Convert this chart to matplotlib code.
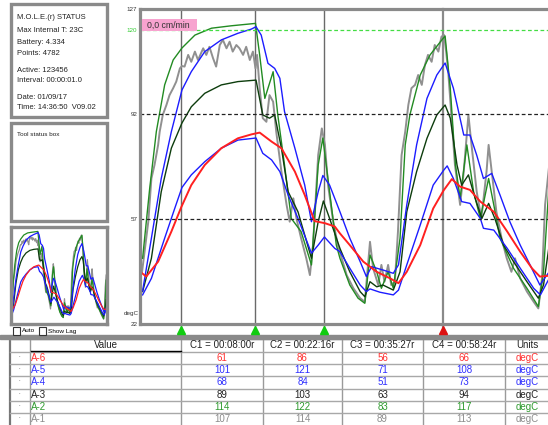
import numpy as np
import matplotlib
matplotlib.use('Agg')
import matplotlib.pyplot as plt
from matplotlib.patches import Rectangle

plt.rcParams['font.family'] = ['Liberation Sans', 'DejaVu Sans']

# ---------------------------------------------------------------
# data (time in minutes, values in degC)
# ---------------------------------------------------------------
a6_t = [0, 1.2, 3.5, 6.05, 7.98, 9.9, 12.5, 15.7, 18.9, 21.5, 23.1, 25.4, 27.3, 29.9, 31.8,
        33.7, 35.7, 37.6, 38.6, 40.5, 43.1, 45.7, 48.3, 49.9, 51.5, 54.1, 56.6, 58.6, 60.2,
        61.8, 63.7, 65.7, 68.3, 70.9, 73.4, 75.7, 77.2, 79.0]
a6_v = [39.5, 37.8, 42.8, 52.8, 61, 68.3, 75, 80.6, 83.9, 85.2, 85.8, 82.8, 80.6, 72.8, 65,
        56.3, 55.6, 54.5, 52.2, 48.3, 42.8, 39.4, 37.2, 35.6, 39.4, 48.3, 60.5, 66.5, 70.3,
        67.8, 66.7, 62.8, 59.4, 52.8, 46.1, 40.5, 37.8, 38.1]

a5_t = [0.5, 2.2, 4.1, 6.05, 8.1, 9.9, 12.5, 15.7, 18.9, 21.5, 22.4, 23.4, 24.7, 26.0, 27.0,
        27.9, 29.9, 31.8, 33.1, 34.4, 35.3, 36.6, 38.6, 40.5, 42.5, 43.7, 44.7, 46.9, 48.9,
        49.9, 51.5, 53.4, 55.4, 57.3, 58.9, 60.5, 62.5, 63.7, 65.0, 66.3, 67.9, 69.5, 71.4,
        73.4, 75.3, 77.2, 79.0]
a5_v = [33, 50.6, 70.5, 86.1, 100, 106.1, 112.8, 116.7, 118.9, 120.3, 121.1, 118.3, 108.9,
        107.2, 103.9, 92.8, 80.6, 68.3, 56.1, 66.1, 71.5, 68.3, 59.4, 50.6, 42.8, 37.8, 41.1,
        40, 38.9, 41.7, 61.7, 81.7, 97.2, 105, 109, 100.6, 85, 85, 78.3, 70.5, 72.2, 65, 56.1,
        48.3, 41.7, 35, 39.4]

a4_t = [0.5, 2.2, 4.76, 6.7, 8.1, 9.9, 12.5, 15.7, 18.9, 22.4, 23.7, 25.4, 27.0, 28.6, 30.5,
        33.1, 34.4, 35.6, 37.6, 38.6, 40.5, 42.5, 43.7, 44.4, 46.3, 48.9, 49.9, 51.5, 54.1,
        56.6, 58.6, 59.3, 60.5, 62.1, 63.7, 65.7, 66.3, 68.3, 70.9, 73.4, 76.0, 77.3, 79.0]
a4_v = [31.7, 37.2, 50.6, 60.5, 67.5, 71.7, 76.1, 80.6, 83.3, 84, 78.9, 76.7, 72.8, 65, 57.2,
        45.6, 48.3, 51, 47.2, 46.1, 40.6, 35, 32.8, 33.7, 32.6, 31.7, 33.3, 41.7, 55, 68.3,
        73.2, 74.7, 70.5, 62.8, 62.2, 57.2, 53.9, 53.3, 47.2, 40.6, 33.9, 31.7, 37.2]

a3_t = [0.5, 2.2, 4.1, 6.05, 8.1, 9.9, 12.5, 15.7, 18.9, 22.4, 23.7, 25.0, 26.0, 27.3, 28.6,
        30.5, 33.1, 34.4, 35.4, 36.6, 38.6, 40.5, 42.5, 43.4, 44.4, 45.7, 46.9, 48.9, 50.2,
        51.5, 53.4, 55.4, 57.3, 58.9, 59.9, 61.2, 62.1, 63.4, 64.7, 66.0, 67.3, 68.5, 70.2,
        72.1, 74.7, 76.9, 77.9, 79.0]
a3_v = [32.8, 43.9, 66.1, 80.6, 89, 94.4, 98.9, 101.7, 102.8, 103.3, 91.7, 90.6, 91.7, 80.6,
        66.1, 59.4, 43.9, 56.1, 63, 57.2, 47.2, 39.4, 32.8, 31.1, 36.1, 34.4, 35, 33.3, 39.4,
        59.4, 72.8, 83.9, 91.7, 95, 90.6, 75, 68.3, 71.7, 63.9, 57.2, 62.2, 57.2, 48.3, 42.8,
        36.1, 30.6, 35, 48.3]

a2_t = [0.5, 1.87, 3.15, 4.76, 6.4, 8.1, 10.6, 13.8, 17.6, 22.3, 23.1, 24.1, 25.7, 26.6, 27.9,
        29.2, 31.1, 33.1, 34.4, 35.3, 36.6, 37.9, 38.6, 40.5, 42.1, 43.4, 44.4, 45.7, 46.6,
        47.9, 48.9, 50.2, 51.2, 52.1, 54.1, 56.0, 58.0, 58.9, 59.9, 60.9, 61.8, 63.1, 64.4,
        65.7, 67.3, 68.3, 69.5, 72.1, 74.7, 76.9, 77.9, 79.0]
a2_v = [43.9, 67.2, 86.1, 101.7, 110, 114, 118.3, 120.6, 121.4, 122.2, 111.7, 97.2, 106.1,
        91.7, 75, 57.2, 52.8, 41.7, 75, 84, 66.1, 48.3, 43.9, 35, 30.6, 28.9, 45, 39.4, 33.9,
        39.4, 33.9, 50.6, 81.7, 91.7, 105, 111.7, 116.1, 118, 100.6, 75, 63.9, 81.7, 66.1,
        57.2, 70.5, 61.7, 50.6, 40.6, 33.9, 27.8, 39.4, 69.4]

a1_t = [0.4, 1.6, 2.2, 2.8, 3.15, 3.5, 3.8, 4.4, 5.1, 5.7, 6.4, 7.0, 7.7, 8.1, 8.6, 9.3, 9.9,
        10.6, 11.2, 12.2, 12.8, 13.4, 14.1, 14.7, 15.4, 16.0, 16.7, 17.3, 17.9, 18.6, 19.2,
        19.9, 20.5, 21.2, 21.8, 22.3, 22.6, 23.1, 23.7, 24.4, 25.0, 25.7, 26.3, 27.3, 28.3,
        28.9, 29.6, 30.2, 31.1, 32.1, 32.8, 33.4, 34.4, 35.1, 35.7, 36.3, 37.3, 38.2,
        39.9, 41.2, 42.5, 43.4, 44.4, 45.0, 46.0, 46.6, 47.2, 47.9, 48.5, 49.2, 49.8, 50.5,
        51.2, 51.8, 52.4, 53.1, 53.7, 54.4, 55.0, 55.6, 56.3, 56.9, 57.6, 58.2, 58.7, 59.1,
        59.5, 60.2, 60.8, 61.8, 62.5, 63.4, 64.0, 65.0, 65.9, 66.9, 67.3, 67.9, 68.8, 69.8,
        70.8, 71.7, 72.4, 73.4, 74.7, 76.0, 76.9, 77.6, 78.2, 79.0]
a1_v = [39.4, 56.1, 70.5, 75, 78.3, 81.7, 86.1, 91.7, 95, 98.3, 100.6, 102.8, 107.2, 108,
        107.8, 111.7, 109.4, 112.8, 110, 113.9, 111.7, 114.4, 110.6, 107.8, 115, 116.7, 113.9,
        116.1, 112.8, 115, 113.9, 111.7, 114.4, 110, 112.8, 107.2, 111.7, 100.6, 90.6, 89.4,
        98.3, 96.1, 86.1, 72.8, 61.7, 56.1, 63.9, 57.2, 50.6, 43.9, 38.3, 48.3, 78.3, 87.2,
        81.7, 68.3, 56.1, 48.3,
        38.3, 33.9, 30.6, 29.4, 49.4, 40.6, 35, 41.7, 36.1, 41.7, 35, 36.1, 52.8, 78.3, 86.1,
        95, 100.6, 101.7, 105, 101.7, 108.3, 111.7, 109.4, 115, 112.8, 117.8, 118.3, 112.8,
        106.1, 89.4, 75, 61.7, 72.8, 91.7, 81.7, 66.1, 57.2, 72.8, 81.7, 72.8, 59.4, 50.6,
        43.9, 39.4, 43.9, 37.2, 32.8, 29.4, 27.2, 37.2, 61.7, 75]

series_names = ['A-6', 'A-5', 'A-4', 'A-3', 'A-2', 'A-1']
series_colors = ['#ff2020', '#1c1cff', '#1c1cff', '#0d3d0d', '#228b22', '#909090']
series_t = [a6_t, a5_t, a4_t, a3_t, a2_t, a1_t]
series_v = [a6_v, a5_v, a4_v, a3_v, a2_v, a1_v]

cursor_times = [8.0, 22.267, 35.45, 58.4]
cursor_labels = ['C1 = 00:08:00r', 'C2 = 00:22:16r', 'C3 = 00:35:27r', 'C4 = 00:58:24r']
cursor_marks = ['#11cc11', '#11cc11', '#11cc11', '#dd1111']
cursor_vals = [[61, 86, 56, 66],
               [101, 121, 71, 108],
               [68, 84, 51, 73],
               [89, 103, 63, 94],
               [114, 122, 83, 117],
               [107, 114, 89, 113]]
table_colors = ['#ff3030', '#3030ff', '#3030ff', '#222222', '#2e9a2e', '#8c8c8c']

y_ticks = [22, 57, 92, 120, 127]
status_lines = ['M.O.L.E.(r) STATUS', 'Max Internal T: 23C', 'Battery: 4.334', 'Points: 4782',
                'Active: 123456', 'Interval: 00:00:01.0', 'Date: 01/09/17',
                'Time: 14:36:50  V09.02']
t_end = 79.7  # 4782 points at 1 s

# ---------------------------------------------------------------
W, H = 548, 425
fig = plt.figure(figsize=(W / 100, H / 100), dpi=100)
fig.patch.set_facecolor('white')
frame_grey = '#8a8a8a'


def box(x0, y0, x1, y1):
    return [x0 / W, 1 - y1 / H, (x1 - x0) / W, (y1 - y0) / H]


bg = fig.add_axes([0, 0, 1, 1])
bg.set_xlim(0, W)
bg.set_ylim(H, 0)
bg.axis('off')

# status boxes
bg.add_patch(Rectangle((11, 4), 96, 113, fill=False, ec=frame_grey, lw=2.4))
ys = [17, 30, 42, 53, 70, 80, 97, 107]
for s, y in zip(status_lines, ys):
    bg.text(17, y, s, fontsize=5.5, va='center', color='#222222')
bg.add_patch(Rectangle((11, 123), 96, 98, fill=False, ec=frame_grey, lw=2.4))
bg.text(17, 134, 'Tool status box', fontsize=4.6, va='center', color='#222222')

# checkboxes under mini chart
bg.add_patch(Rectangle((13, 327), 7, 8, fc='white', ec='#333333', lw=0.8, zorder=5))
bg.text(22, 331, 'Auto', fontsize=4.6, va='center', zorder=5)
bg.add_patch(Rectangle((39, 327), 7, 8, fc='white', ec='#333333', lw=0.8, zorder=5))
bg.text(48, 331, 'Show Lag', fontsize=4.6, va='center', zorder=5)

# table
bg.add_patch(Rectangle((0, 335), W, 3.5, color=frame_grey, zorder=3))
col_edges = [10, 30, 181, 263, 342, 423, 505, 560]
row_edges = [339, 351.7, 364.3, 376.3, 388.5, 401, 413.3, 425.5]
for i, x in enumerate(col_edges[:-1]):
    bg.plot([x, x], [338, 426], color='#9a9a9a' if i else '#777777', lw=1.0 if i else 1.6)
for y in row_edges:
    bg.plot([10, W], [y, y], color='#a8a8a8', lw=1.0)
bg.plot([31, 181], [351.2, 351.2], color='k', lw=1.0)
centers = [(a + b) / 2 for a, b in zip(col_edges[:-1], col_edges[1:])]
centers[-1] = 527
header = ['Value'] + cursor_labels + ['Units']
hy = (row_edges[0] + row_edges[1]) / 2
for c, s in zip(centers[1:], header):
    bg.text(c, hy, s, fontsize=7.0, ha='center', va='center', color='#222222')
for r, name in enumerate(series_names):
    y = (row_edges[r + 1] + row_edges[r + 2]) / 2
    col = table_colors[r]
    bg.text(20, y, '\u2022', fontsize=3, ha='center', va='center', color='#999999')
    bg.text(31, y, name, fontsize=7.0, va='center', color=col)
    for c, val in zip(centers[2:6], cursor_vals[r]):
        bg.text(c, y, str(val), fontsize=7.0, ha='center', va='center', color=col)
    bg.text(centers[-1], y, 'degC', fontsize=7.0, ha='center', va='center', color=col)

# main chart
ax = fig.add_axes(box(140, 9, 140 + t_end * 5.18, 324))
ax.set_xlim(0, t_end)
ax.set_ylim(22, 127)
for t, v, c, n in zip(series_t[::-1], series_v[::-1], series_colors[::-1], series_names[::-1]):
    lw = 1.4 if n in ('A-1', 'A-6') else 1.0
    ax.plot(t, v, color=c, lw=lw)
ax.axhline(120, color='#44dd44', lw=0.9, ls=(0, (3, 2)))
ax.axhline(92, color='#222222', lw=0.9, ls=(0, (3, 2)))
ax.axhline(57, color='#222222', lw=0.9, ls=(0, (3, 2)))
for i, (ct, mc) in enumerate(zip(cursor_times, cursor_marks)):
    ax.plot([ct, ct], [127, 20.5], color='#6a6a6a' if i < 3 else '#8a8a8a',
            lw=1.0 if i < 3 else 1.6, clip_on=False, zorder=1)
    ax.plot(ct, 20, marker='^', ms=5.5, color=mc, clip_on=False, zorder=4)
ax.set_xticks([])
ax.set_yticks(y_ticks)
ax.set_yticklabels([str(v) for v in y_ticks])
ax.tick_params(axis='y', length=0, pad=2, labelsize=4.5, labelcolor='#333333')
ax.get_yticklabels()[3].set_color('#33cc33')
ax.text(-0.002, 25.5, 'degC', transform=ax.get_yaxis_transform(), ha='right',
        va='center', fontsize=4.5, color='#333333')
ax.spines['right'].set_visible(False)
for s in ['left', 'top', 'bottom']:
    ax.spines[s].set_color(frame_grey)
    ax.spines[s].set_linewidth(2.3)

# speed label (pink box at top-left of plot)
fig.add_artist(Rectangle((141.5 / W, 1 - 31 / H), 55.5 / W, 12 / H, transform=fig.transFigure,
                         fc='#f7a3cf', ec='none', zorder=10))
fig.text(147 / W, 1 - 25 / H, '0,0 cm/min', fontsize=6.3, va='center', color='#333333',
         zorder=11)

# mini overview chart
mini = fig.add_axes(box(11, 227, 107, 324))
mini.set_xlim(0, t_end)
mini.set_ylim(22, 127)
for t, v, c in zip(series_t[::-1], series_v[::-1], series_colors[::-1]):
    mini.plot(t, v, color=c, lw=0.9)
mini.set_xticks([])
mini.set_yticks([])
for s in mini.spines.values():
    s.set_color(frame_grey)
    s.set_linewidth(2.4)

fig.savefig('out.png', dpi=100)
